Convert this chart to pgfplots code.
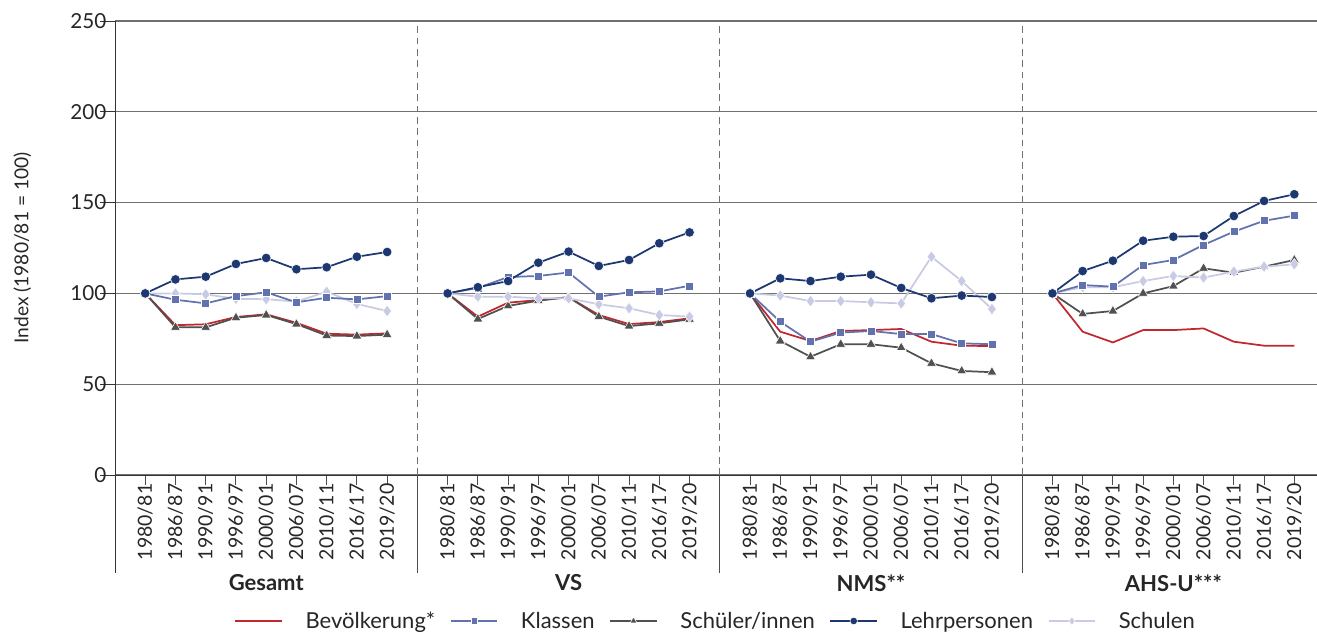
\documentclass[border=0pt]{standalone}
\usepackage{pgfplots}
\usepackage{pgfplotstable}
\pgfplotsset{compat=1.18}
\usepackage{fontspec}
\setmainfont{Lato}
\definecolor{cBev}{HTML}{C0282E}
\definecolor{cKla}{HTML}{6272AE}
\definecolor{cSch}{HTML}{505050}
\definecolor{cLeh}{HTML}{1D3771}
\definecolor{cSchu}{HTML}{C8CBE3}
\definecolor{cGrid}{HTML}{707070}

\pgfplotstableread{
x bev kla sch leh schu
1 100 100 100 100 100
2 82.5 96.5 81.3 107.7 100
3 83 94.5 81.3 109.2 99.5
4 87 98.5 86.6 116.2 97
5 88.5 100.6 88.1 119.5 96.8
6 83.8 95.1 83.1 113.3 95.5
7 77.8 97.6 76.8 114.4 100.9
8 77.3 96.7 76.5 120.2 94.2
9 78 98.5 77.3 122.8 90.3
10 nan nan nan nan nan
11 100 100 100 100 100
12 87.2 103 85.9 103.4 98.2
13 94.9 109 93.1 106.8 98.2
14 96.3 109.6 96 116.9 97.3
15 97.9 111.5 97.9 123 97.3
16 88.1 98.2 87.2 115.1 94
17 83.1 100.6 82 118.4 91.8
18 84.2 101.1 83.5 127.6 88.1
19 86.3 104.2 85.7 133.6 87.2
20 nan nan nan nan nan
21 100 100 100 100 100
22 78.9 84.4 73.8 108.3 98.8
23 73.8 73.4 65.1 106.8 95.8
24 79.3 78.4 72 109.2 95.8
25 79.8 79.3 72 110.3 95.1
26 80.4 77.6 70.1 103 94.5
27 73.4 77.6 61.5 97.3 120.2
28 71.2 72.5 57.3 98.8 106.8
29 71 72 56.6 98 91.4
30 nan nan nan nan nan
31 100 100 100 100 100
32 78.9 104.6 88.7 112.3 103.4
33 73 103.7 90.3 118 103.4
34 79.8 115.6 100 129 106.8
35 79.8 118.4 104 131.2 109.6
36 80.7 126.7 113.8 131.6 108.7
37 73.4 134 111.4 142.6 112
38 71.2 140 114.7 150.9 114.7
39 71.2 142.8 118.4 154.6 116
}\datatable

\pgfplotsset{
  bevst/.style={color=cBev, line width=1.3pt, mark=none},
  klast/.style={color=cKla, line width=1.3pt, mark=square*, mark size=3pt, mark options={fill=cKla, draw=white, line width=0.4pt}},
  schst/.style={color=cSch, line width=1.3pt, mark=triangle*, mark size=4.2pt, mark options={fill=cSch, draw=white, line width=0.4pt}},
  lehst/.style={color=cLeh, line width=1.3pt, mark=*, mark size=3.6pt, mark options={fill=cLeh, draw=white, line width=0.4pt}},
  schust/.style={color=cSchu, line width=1.3pt, mark=diamond*, mark size=4.4pt, mark options={fill=cSchu, draw=white, line width=0.4pt}},
}

\begin{document}
\begin{tikzpicture}
\useasboundingbox (-86.25pt,-119.25pt) rectangle (901.5pt,356.25pt);
\begin{axis}[
  at={(0,0)}, anchor=south west,
  width=901.5pt, height=340.5pt, scale only axis,
  xmin=0, xmax=39.75, ymin=0, ymax=250,
  clip=false,
  axis x line*=bottom, axis y line*=left,
  axis line style={color=black!80, line width=0.7pt},
  xtick={1,2,3,4,5,6,7,8,9,11,12,13,14,15,16,17,18,19,21,22,23,24,25,26,27,28,29,31,32,33,34,35,36,37,38,39},
  xticklabels={1980/81,1986/87,1990/91,1996/97,2000/01,2006/07,2010/11,2016/17,2019/20,
               1980/81,1986/87,1990/91,1996/97,2000/01,2006/07,2010/11,2016/17,2019/20,
               1980/81,1986/87,1990/91,1996/97,2000/01,2006/07,2010/11,2016/17,2019/20,
               1980/81,1986/87,1990/91,1996/97,2000/01,2006/07,2010/11,2016/17,2019/20},
  ytick={0,50,...,250},
  tick align=outside,
  xtick style={color=black!70, line width=0.7pt, /pgfplots/major tick length=7.5pt},
  ytick style={color=black!80, line width=0.7pt, /pgfplots/major tick length=11pt},
  xticklabel style={rotate=90, anchor=east, font=\fontsize{14.6}{16}\selectfont, text=black!85, inner sep=2pt},
  yticklabel style={font=\fontsize{15.5}{17}\selectfont, text=black!85, inner sep=2pt},
  /pgf/number format/assume math mode=true,
  ymajorgrids,
  grid style={color=cGrid, line width=0.8pt},
  ylabel={Index (1980/81 = 100)},
  every axis y label/.style={at={(axis description cs:0,0.5)}, xshift=-69.5pt, rotate=90, anchor=center, font=\fontsize{14.4}{16}\selectfont, text=black!85},
  unbounded coords=jump,
  legend columns=5,
  legend style={at={(axis description cs:0.5,0)}, yshift=-109.5pt, anchor=center, draw=none, fill=none,
    font=\fontsize{16.5}{18}\selectfont, text=black!85,
    /tikz/every odd column/.append style={column sep=15pt},
    /tikz/every even column/.append style={column sep=9pt}},
  legend cell align=left,
  legend image code/.code={\draw[mark repeat=2, mark phase=2, #1] plot coordinates {(0pt,0pt) (17.5pt,0pt) (35pt,0pt)};},
]
% separators
\foreach \s in {10,20,30}{
  \edef\tmp{\noexpand\draw[color=cGrid, line width=0.8pt, dash pattern=on 5pt off 3.5pt] (axis cs:\s,0) -- (axis cs:\s,250);
  \noexpand\draw[color=black!70, line width=0.7pt] (axis cs:\s,0) -- ++(0,-73.5pt);}\tmp
}
\draw[color=black!80, line width=0.7pt] (axis cs:0,0) -- ++(0,-73.5pt);
\node[font=\bfseries\fontsize{16.5}{18}\selectfont, text=black!85] at ([yshift=-81pt]axis cs:5,0) {Gesamt};
\node[font=\bfseries\fontsize{16.5}{18}\selectfont, text=black!85] at ([yshift=-81pt]axis cs:15,0) {VS};
\node[font=\bfseries\fontsize{16.5}{18}\selectfont, text=black!85] at ([yshift=-81pt]axis cs:25,0) {NMS**};
\node[font=\bfseries\fontsize{16.5}{18}\selectfont, text=black!85] at ([yshift=-81pt]axis cs:35,0) {AHS-U***};

\addplot[bevst, forget plot] table[x=x, y=bev] {\datatable};
\addplot[schst, forget plot] table[x=x, y=sch] {\datatable};
\addplot[schust, forget plot] table[x=x, y=schu] {\datatable};
\addplot[klast, forget plot] table[x=x, y=kla] {\datatable};
\addplot[lehst, forget plot] table[x=x, y=leh] {\datatable};

\addlegendimage{bevst}
\addlegendentry{Bevölkerung*}
\addlegendimage{klast, mark size=2.5pt}
\addlegendentry{Klassen}
\addlegendimage{schst, mark size=3pt}
\addlegendentry{Schüler/innen}
\addlegendimage{lehst, mark size=2.8pt}
\addlegendentry{Lehrpersonen}
\addlegendimage{schust, mark size=3.2pt}
\addlegendentry{Schulen}
\end{axis}
\end{tikzpicture}
\end{document}
